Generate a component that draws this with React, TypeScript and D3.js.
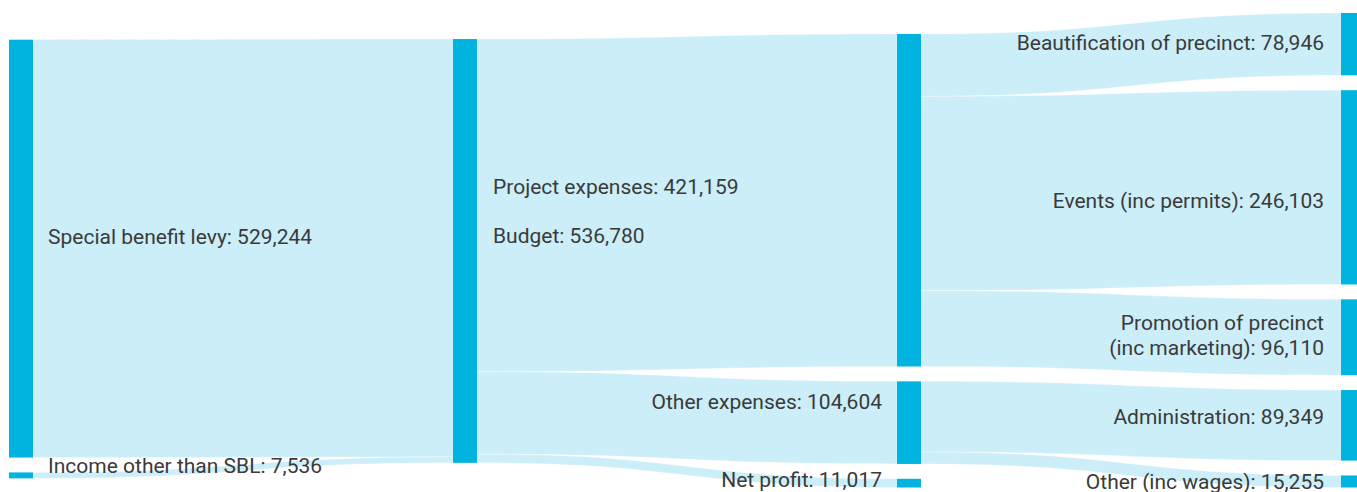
import React from "react";
import * as d3 from "d3";

// ---------- data ----------
const nodeNames = [
  "Special benefit levy",
  "Income other than SBL",
  "Budget",
  "Project expenses",
  "Other expenses",
  "Net profit",
  "Beautification of precinct",
  "Events (inc permits)",
  "Promotion of precinct (inc marketing)",
  "Administration",
  "Other (inc wages)",
];

const linkSources = [
  "Special benefit levy",
  "Income other than SBL",
  "Budget",
  "Budget",
  "Budget",
  "Project expenses",
  "Project expenses",
  "Project expenses",
  "Other expenses",
  "Other expenses",
];

const linkTargets = [
  "Budget",
  "Budget",
  "Project expenses",
  "Other expenses",
  "Net profit",
  "Beautification of precinct",
  "Events (inc permits)",
  "Promotion of precinct (inc marketing)",
  "Administration",
  "Other (inc wages)",
];

const linkValues = [529244, 7536, 421159, 104604, 11017, 78946, 246103, 96110, 89349, 15255];

// ---------- label placement (relative to node) ----------
type LabelCfg = { side: "left" | "right"; dx: number; dy: number; xFrom?: string; wrap?: boolean };
const labelCfg: Record<string, LabelCfg> = {
  "Special benefit levy": { side: "right", dx: 15, dy: -5 },
  "Income other than SBL": { side: "right", dx: 15, dy: -2 },
  Budget: { side: "right", dx: 16, dy: -8 },
  "Project expenses": { side: "right", dx: 16, dy: -6, xFrom: "Budget" },
  "Other expenses": { side: "left", dx: 15, dy: -14 },
  "Net profit": { side: "left", dx: 15, dy: 4 },
  "Beautification of precinct": { side: "left", dx: 17, dy: 6 },
  "Events (inc permits)": { side: "left", dx: 17, dy: 21 },
  "Promotion of precinct (inc marketing)": { side: "left", dx: 17, dy: -7, wrap: true },
  Administration: { side: "left", dx: 17, dy: -1 },
  "Other (inc wages)": { side: "left", dx: 17, dy: 7.5 },
};

const WIDTH = 1357;
const HEIGHT = 492;
const MARGIN = { left: 9, top: 13 };
const SIZE: [number, number] = [1356, 474.5];
const NODE_WIDTH = 24;
const NODE_PADDING = 14.85;
const ITERATIONS = 32;
const NODE_COLOR = "#00b4df";
const LINK_COLOR = "#cbeef8";
const TEXT_COLOR = "#3a3a3a";

// ---------- classic d3.sankey layout (node order kept within columns) ----------
type SNode = {
  name: string;
  index: number;
  sourceLinks: SLink[];
  targetLinks: SLink[];
  value: number;
  col: number;
  x: number;
  dx: number;
  y: number;
  dy: number;
};
type SLink = { source: SNode; target: SNode; value: number; dy: number; sy: number; ty: number };

function computeSankey() {
  const nodes: SNode[] = nodeNames.map((name, index) => ({
    name,
    index,
    sourceLinks: [],
    targetLinks: [],
    value: 0,
    col: 0,
    x: 0,
    dx: NODE_WIDTH,
    y: 0,
    dy: 0,
  }));
  const byName = new Map(nodes.map((n) => [n.name, n]));
  const links: SLink[] = linkValues.map((value, i) => ({
    source: byName.get(linkSources[i])!,
    target: byName.get(linkTargets[i])!,
    value,
    dy: 0,
    sy: 0,
    ty: 0,
  }));
  for (const l of links) {
    l.source.sourceLinks.push(l);
    l.target.targetLinks.push(l);
  }
  for (const n of nodes) {
    n.value = Math.max(d3.sum(n.sourceLinks, (l) => l.value), d3.sum(n.targetLinks, (l) => l.value));
  }
  // breadths (columns)
  let remaining = nodes.slice();
  let c = 0;
  while (remaining.length) {
    const next: SNode[] = [];
    for (const node of remaining) {
      node.col = c;
      for (const l of node.sourceLinks) if (next.indexOf(l.target) < 0) next.push(l.target);
    }
    remaining = next;
    ++c;
  }
  const kx = (SIZE[0] - NODE_WIDTH) / (c - 1);
  const xScale = d3.scaleLinear().domain([0, 1]).range([0, kx]);
  for (const n of nodes) n.x = xScale(n.col);

  const byBreadth: SNode[][] = Array.from(d3.group(nodes, (d) => d.col).entries())
    .sort((a, b) => a[0] - b[0])
    .map((d) => d[1].slice().sort((a, b) => a.index - b.index));

  // depths
  const ky = d3.min(byBreadth, (ns) => (SIZE[1] - (ns.length - 1) * NODE_PADDING) / d3.sum(ns, (d) => d.value)) as number;
  const yScale = d3.scaleLinear().domain([0, 1]).range([0, ky]);
  byBreadth.forEach((ns) =>
    ns.forEach((node, i) => {
      node.y = i;
      node.dy = yScale(node.value);
    })
  );
  for (const l of links) l.dy = yScale(l.value);

  const center = (n: SNode) => n.y + n.dy / 2;
  const resolveCollisions = () => {
    for (const ns of byBreadth) {
      let y0 = 0;
      let node: SNode = ns[0];
      for (let i = 0; i < ns.length; ++i) {
        node = ns[i];
        const d = y0 - node.y;
        if (d > 0) node.y += d;
        y0 = node.y + node.dy + NODE_PADDING;
      }
      let d = y0 - NODE_PADDING - SIZE[1];
      if (d > 0) {
        y0 = node.y -= d;
        for (let i = ns.length - 2; i >= 0; --i) {
          node = ns[i];
          d = node.y + node.dy + NODE_PADDING - y0;
          if (d > 0) node.y -= d;
          y0 = node.y;
        }
      }
    }
  };
  const relaxLeftToRight = (alpha: number) => {
    for (const ns of byBreadth) {
      for (const node of ns) {
        if (node.targetLinks.length) {
          const y =
            d3.sum(node.targetLinks, (l) => center(l.source) * l.value) / d3.sum(node.targetLinks, (l) => l.value);
          node.y += (y - center(node)) * alpha;
        }
      }
    }
  };
  const relaxRightToLeft = (alpha: number) => {
    for (const ns of byBreadth.slice().reverse()) {
      for (const node of ns) {
        if (node.sourceLinks.length) {
          const y =
            d3.sum(node.sourceLinks, (l) => center(l.target) * l.value) / d3.sum(node.sourceLinks, (l) => l.value);
          node.y += (y - center(node)) * alpha;
        }
      }
    }
  };
  resolveCollisions();
  let alpha = 1;
  for (let it = ITERATIONS; it > 0; --it) {
    relaxRightToLeft((alpha *= 0.99));
    resolveCollisions();
    relaxLeftToRight(alpha);
    resolveCollisions();
  }
  // link depths
  for (const node of nodes) {
    node.sourceLinks.sort((a, b) => a.target.y - b.target.y);
    node.targetLinks.sort((a, b) => a.source.y - b.source.y);
  }
  for (const node of nodes) {
    let sy = 0;
    let ty = 0;
    for (const l of node.sourceLinks) {
      l.sy = sy;
      sy += l.dy;
    }
    for (const l of node.targetLinks) {
      l.ty = ty;
      ty += l.dy;
    }
  }
  return { nodes, links, byName };
}

function linkArea(l: SLink) {
  const xa = l.source.x + l.source.dx;
  const xb = l.target.x;
  const xm = d3.interpolateNumber(xa, xb)(0.5);
  const s0 = l.source.y + l.sy;
  const t0 = l.target.y + l.ty;
  const p = d3.path();
  p.moveTo(xa, s0);
  p.bezierCurveTo(xm, s0, xm, t0, xb, t0);
  p.lineTo(xb, t0 + l.dy);
  p.bezierCurveTo(xm, t0 + l.dy, xm, s0 + l.dy, xa, s0 + l.dy);
  p.closePath();
  return p.toString();
}

const fmt = d3.format(",");

export default function App() {
  const { nodes, links, byName } = React.useMemo(() => computeSankey(), []);
  const lineHeight = 25;
  return (
    <svg
      width={WIDTH}
      height={HEIGHT}
      style={{ position: "absolute", left: 0, top: 0 }}
      fontFamily="Roboto, 'Noto Sans', sans-serif"
      fontSize={21}
    >
      <g transform={`translate(${MARGIN.left},${MARGIN.top})`}>
        <g>
          {links.map((l, i) => (
            <path key={i} d={linkArea(l)} fill={LINK_COLOR} stroke="#ffffff" strokeOpacity={0.6} strokeWidth={0.5} />
          ))}
        </g>
        <g>
          {nodes.map((n) => (
            <rect key={n.name} x={n.x} y={n.y} width={n.dx} height={n.dy} fill={NODE_COLOR} />
          ))}
        </g>
        <g fill={TEXT_COLOR}>
          {nodes.map((n) => {
            const cfg = labelCfg[n.name];
            const ref = cfg.xFrom ? byName.get(cfg.xFrom)! : n;
            const x = cfg.side === "right" ? ref.x + ref.dx + cfg.dx : ref.x - cfg.dx;
            const cy = n.y + n.dy / 2 + cfg.dy;
            const full = `${n.name}: ${fmt(n.value)}`;
            const idx = full.indexOf(" (");
            const lines = cfg.wrap && idx > 0 ? [full.slice(0, idx), full.slice(idx + 1)] : [full];
            return (
              <text key={n.name} x={x} y={cy} textAnchor={cfg.side === "right" ? "start" : "end"}>
                {lines.map((t, j) => (
                  <tspan key={j} x={x} dy={j === 0 ? 0 : lineHeight}>
                    {t}
                  </tspan>
                ))}
              </text>
            );
          })}
        </g>
      </g>
    </svg>
  );
}
